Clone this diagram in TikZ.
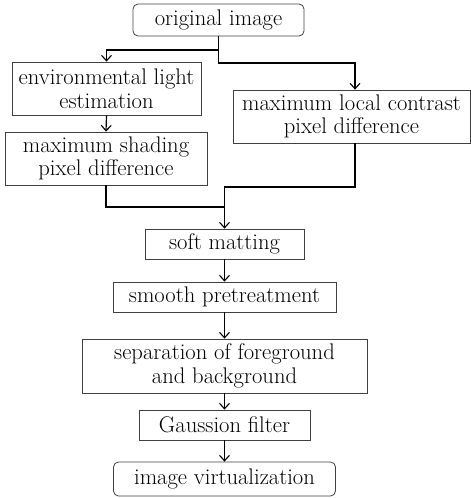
\documentclass[tikz,border=0pt]{standalone}
\usetikzlibrary{arrows.meta}
\begin{document}
\begin{tikzpicture}[x=1pt,y=-1pt,
  box/.style={draw=black!75,line width=0.8pt,align=center,inner sep=0pt,
    font=\fontsize{22.6}{23.5}\selectfont},
  rbox/.style={box,rounded corners=5pt},
  arr/.style={line width=1.2pt,-{Straight Barb[length=5.5pt,width=10pt,line width=1.1pt]}},
  ln/.style={line width=1.2pt}]
\useasboundingbox (0,0) rectangle (471,498);
\node[rbox,minimum width=171,minimum height=32] (orig) at (218.5,20) {original image};
\node[box,minimum width=189,minimum height=53] (env) at (106.5,88.5) {environmental light\\estimation};
\node[box,minimum width=202,minimum height=53] (shade) at (106,158.5) {maximum shading\\pixel difference};
\node[box,minimum width=237,minimum height=53] (local) at (351.5,116.5) {maximum local contrast\\pixel difference};
\node[box,minimum width=159,minimum height=30] (soft) at (224.5,244) {soft matting};
\node[box,minimum width=223,minimum height=30] (smooth) at (224.5,297) {smooth pretreatment};
\node[box,minimum width=285,minimum height=54] (sep) at (224.5,366) {separation of foreground\\and background};
\node[box,minimum width=171,minimum height=30] (gauss) at (224.5,425) {Gaussion filter};
\node[rbox,minimum width=222,minimum height=34] (virt) at (224.5,479) {image virtualization};
\coordinate (j1) at (218.5,50);
\coordinate (j2) at (355,63);
\coordinate (m1) at (224.5,207);
\coordinate (m2) at (224.5,187);
\draw[arr] (orig.south) -- (j1) -| (env.north);
\draw[arr] (j1) |- (j2) -- (j2 |- local.north);
\draw[arr] (env.south) -- (shade.north);
\draw[ln] (shade.south) |- (m1);
\draw[arr] (j2 |- local.south) |- (m2) -- (soft.north);
\draw[arr] (soft) -- (smooth);
\draw[arr] (smooth) -- (sep);
\draw[arr] (sep) -- (gauss);
\draw[arr] (gauss) -- (virt);
\end{tikzpicture}
\end{document}
